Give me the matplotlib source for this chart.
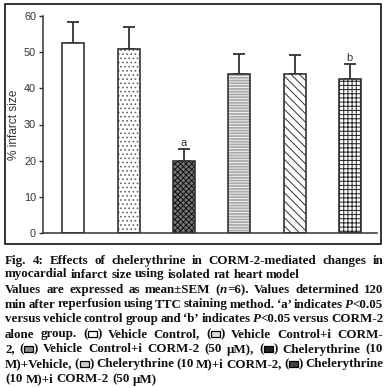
import matplotlib
matplotlib.use('Agg')
import matplotlib.pyplot as plt
from matplotlib.patches import Rectangle
import re

# ---------------- data ----------------
categories = ['Vehicle Control', 'Vehicle Control+i CORM-2',
              'Vehicle Control+i CORM-2 (50 μM)', 'Chelerythrine (10 M)+Vehicle',
              'Chelerythrine (10 M)+i CORM-2', 'Chelerythrine (10 M)+i CORM-2 (50 μM)']
means = [52.6, 50.8, 20.0, 43.9, 43.9, 42.5]
sems = [5.7, 6.2, 3.2, 5.6, 5.2, 4.1]
marks = ['', '', 'a', '', '', 'b']
yticks = [0, 10, 20, 30, 40, 50, 60]
ylabel = '% infarct size'

caption_lines = [
    ("Fig. 4: Effects of chelerythrine in CORM-2-mediated changes in", True),
    ("myocardial infarct size using isolated rat heart model", False),
    ("Values are expressed as mean±SEM (*n*=6). Values determined 120", True),
    ("min after reperfusion using TTC staining method. ‘a’ indicates *P*<0.05", True),
    ("versus vehicle control group and ‘b’ indicates *P*<0.05 versus CORM-2", True),
    ("alone group. ([0]) Vehicle Control, ([1]) Vehicle Control+i CORM-", True),
    ("2, ([2]) Vehicle Control+i CORM-2 (50 μM), ([3]) Chelerythrine (10", True),
    ("M)+Vehicle, ([4]) Chelerythrine (10 M)+i CORM-2, ([5]) Chelerythrine", True),
    ("(10 M)+i CORM-2 (50 μM)", False),
]

# ---------------- style ----------------
hatches = ['', '....', 'xxxxxx', '------', '\\\\\\\\', '++++']
faces = ['white', 'white', '#777777', '#aaaaaa', 'white', 'white']
hatch_cols = ['#333333', '#666666', '#111111', '#f4f4f4', '#333333', '#222222']
sym_faces = ['white', '#dddddd', '#888888', '#222222', '#cccccc', '#444444']

W, H = 390, 388
plt.rcParams['hatch.linewidth'] = 0.7
fig = plt.figure(figsize=(W / 100, H / 100), dpi=100)

def fx(x):
    return x / W

def fy(y):
    return 1 - y / H

# outer frame
fig.patches.append(Rectangle((fx(5), fy(244)), fx(381) - fx(5), fy(4) - fy(244),
                             transform=fig.transFigure, fill=False,
                             edgecolor='black', linewidth=1.1))

ax = fig.add_axes([fx(43), fy(233), fx(377) - fx(43), fy(16) - fy(233)])
x = list(range(len(means)))
for i in x:
    ax.bar(i, means[i], width=0.40, color=faces[i], hatch=hatches[i],
           edgecolor=hatch_cols[i], linewidth=0, zorder=2)
    ax.bar(i, means[i], width=0.40, fill=False, edgecolor='#333333',
           linewidth=1.2, zorder=3)
ax.errorbar(x, means, yerr=[[0] * len(sems), sems], fmt='none', ecolor='#333333',
            elinewidth=1.3, capsize=4.5, capthick=1.3, zorder=1)
for i in x:
    if marks[i]:
        ax.text(i, means[i] + sems[i] + 0.9, marks[i], ha='center', va='baseline',
                fontsize=8, family='Liberation Sans', color='#333333')

ax.set_xlim(-0.55, 5.49)
ax.set_ylim(0, 60)
ax.set_yticks(yticks)
ax.set_xticks([])
for s in ['top', 'right']:
    ax.spines[s].set_visible(False)
for s in ['left', 'bottom']:
    ax.spines[s].set_color('#333333')
    ax.spines[s].set_linewidth(1.1)
ax.tick_params(axis='y', length=3, width=1.0, color='#333333', pad=2,
               labelsize=7.8, labelcolor='#333333')
for lab in ax.get_yticklabels():
    lab.set_family('Liberation Sans')
ax.set_ylabel(ylabel, fontsize=8.6, family='Liberation Sans', color='#333333',
              labelpad=3)

# ---------------- caption (justified) ----------------
renderer = fig.canvas.get_renderer()
FS = 9.4
FAM = ['Liberation Serif', 'DejaVu Serif']
BOXW = 9

def make_text(s, style):
    return fig.text(0, 0, s, fontsize=FS, family=FAM, weight='bold', style=style,
                    va='baseline', ha='left', color='#111111')

def text_width(s, style='normal'):
    t = make_text(s, style)
    w = t.get_window_extent(renderer).width
    t.remove()
    return w

space_w = text_width('a a') - text_width('aa')

def segments(word):
    out = []
    for part in re.split(r'(\*[^*]+\*|\[\d\])', word):
        if not part:
            continue
        if part.startswith('*'):
            out.append(('italic', part[1:-1]))
        elif part.startswith('['):
            out.append(('box', int(part[1:-1])))
        else:
            out.append(('normal', part))
    return out

def seg_width(seg):
    kind, val = seg
    if kind == 'box':
        return BOXW + 1
    return text_width(val, kind)

baselines = [264, 277.5, 293, 307.5, 322, 337.5, 352.5, 367.5, 382.5]
X0, X1 = 5, 383
for (line, justify), yb in zip(caption_lines, baselines):
    words = [segments(w) for w in line.split(' ')]
    widths = [[seg_width(s) for s in w] for w in words]
    totals = [sum(ws) for ws in widths]
    if justify and len(words) > 1:
        gap = (X1 - X0 - sum(totals)) / (len(words) - 1)
    else:
        gap = space_w
    cx = X0
    for w, ws in zip(words, widths):
        for seg, sw in zip(w, ws):
            kind, val = seg
            if kind == 'box':
                fig.patches.append(Rectangle((fx(cx + 0.5), fy(yb - 1.0)), BOXW / W, 5.5 / H,
                                             transform=fig.transFigure,
                                             facecolor=sym_faces[val], edgecolor='black',
                                             linewidth=0.9))
            else:
                t = make_text(val, kind)
                t.set_position((fx(cx), fy(yb)))
            cx += sw
        cx += gap

fig.savefig('out.png', dpi=100)
